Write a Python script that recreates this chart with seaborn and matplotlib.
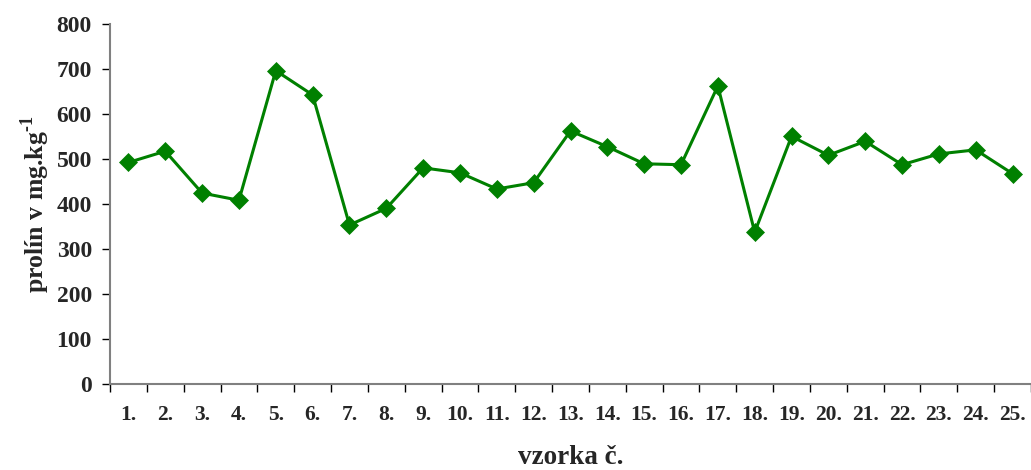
import numpy as np
import pandas as pd
import matplotlib
matplotlib.use("Agg")
import matplotlib.pyplot as plt
from matplotlib.ticker import FixedLocator
import seaborn as sns

# proline content per sample
samples = [f"{i}." for i in range(1, 26)]
proline = [493, 518, 425, 409, 697, 643, 354, 391, 481, 470, 434, 448, 563,
           528, 490, 488, 663, 338, 551, 509, 540, 488, 512, 521, 468]
y_ticks = [0, 100, 200, 300, 400, 500, 600, 700, 800]

sns.set_style("white")
plt.rcParams["font.family"] = ["Liberation Serif", "DejaVu Serif"]
plt.rcParams["font.weight"] = "bold"
plt.rcParams["mathtext.fontset"] = "custom"
plt.rcParams["mathtext.rm"] = "Liberation Serif:bold"
plt.rcParams["mathtext.bf"] = "Liberation Serif:bold"

df = pd.DataFrame({"pos": np.arange(len(samples)), "val": proline})

fig = plt.figure(figsize=(10.31, 4.70), dpi=100)
ax = fig.add_axes([0.1067, 0.1823, 0.8933, 0.7660])

sns.lineplot(data=df, x="pos", y="val", ax=ax, color="#008000",
             linewidth=2.2, marker="D", markersize=9.5,
             markeredgecolor="#008000", markeredgewidth=0.5)

ax.set_xlim(-0.5, len(samples) - 0.5)
ax.set_ylim(0, 800)
ax.set_yticks(y_ticks)
ax.set_yticklabels([str(v) for v in y_ticks], fontsize=17, fontweight="bold")
ax.set_xticks(df["pos"])
ax.set_xticklabels(samples, fontsize=15.5, fontweight="bold")
ax.xaxis.set_minor_locator(FixedLocator(np.arange(-0.5, len(samples), 1.0)))

ax.tick_params(axis="x", which="major", length=0, pad=15)
ax.tick_params(axis="x", which="minor", length=6, width=1, color="black",
               direction="out", bottom=True)
ax.tick_params(axis="y", which="major", length=6, width=1, color="black",
               direction="out", left=True, pad=7)

for side in ["top", "right"]:
    ax.spines[side].set_visible(False)
for side in ["left", "bottom"]:
    ax.spines[side].set_color("#808080")
    ax.spines[side].set_linewidth(1.5)

ax.set_xlabel("vzorka č.", fontsize=19.5, fontweight="bold", labelpad=14)
ax.set_ylabel(r"prolín v mg.kg$^{\text{-1}}$", fontsize=18.5,
              fontweight="bold")
ax.yaxis.set_label_coords(-0.063, 0.5)
ax.grid(False)

fig.savefig("out.png", dpi=100)
